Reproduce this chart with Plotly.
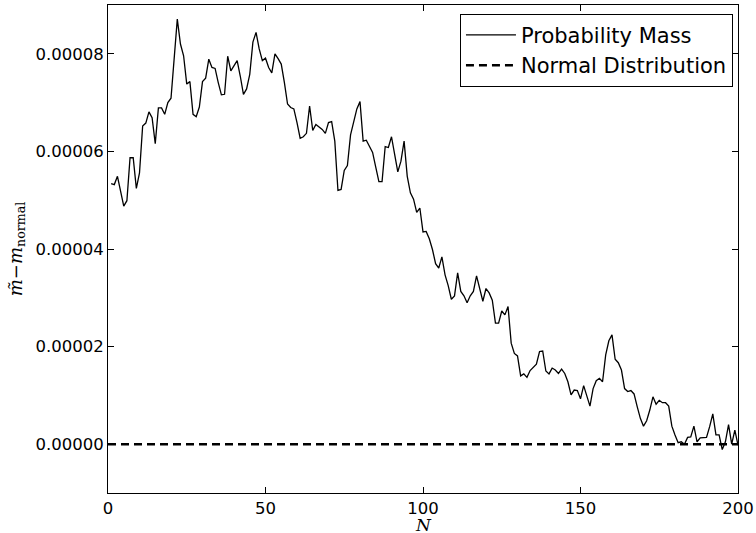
import plotly.graph_objects as go

N = list(range(1, 201))
prob_mass_e5 = [
    5.34, 5.32, 5.49, 5.19, 4.88, 4.99, 5.87, 5.87, 5.24, 5.56,
    6.52, 6.58, 6.81, 6.69, 6.16, 6.89, 6.89, 6.76, 7.00, 7.09,
    7.93, 8.71, 8.20, 7.96, 7.38, 7.43, 6.76, 6.71, 6.91, 7.43,
    7.50, 7.89, 7.72, 7.70, 7.41, 7.16, 7.17, 7.95, 7.65, 7.76,
    7.86, 7.54, 7.17, 7.28, 7.58, 8.24, 8.44, 8.10, 7.86, 7.91,
    7.72, 7.61, 8.00, 7.90, 7.79, 7.41, 6.97, 6.90, 6.87, 6.59,
    6.27, 6.30, 6.37, 6.93, 6.43, 6.55, 6.50, 6.45, 6.37, 6.59,
    6.61, 6.21, 5.20, 5.22, 5.61, 5.71, 6.34, 6.59, 6.87, 7.02,
    6.21, 6.23, 6.10, 5.98, 5.68, 5.38, 5.38, 6.10, 6.08, 6.30,
    5.94, 5.58, 5.80, 6.21, 5.49, 5.15, 5.02, 4.75, 4.84, 4.35,
    4.36, 4.21, 3.99, 3.70, 3.61, 3.84, 3.47, 3.25, 2.97, 3.04,
    3.51, 3.13, 3.04, 2.90, 3.04, 3.13, 3.45, 3.20, 2.93, 3.19,
    3.10, 2.95, 2.48, 2.48, 2.73, 2.65, 2.82, 2.07, 1.86, 1.81,
    1.40, 1.44, 1.37, 1.51, 1.58, 1.64, 1.90, 1.91, 1.50, 1.44,
    1.56, 1.52, 1.45, 1.54, 1.45, 1.28, 1.01, 1.11, 1.10, 0.93,
    1.20, 0.97, 0.78, 1.14, 1.30, 1.35, 1.28, 1.83, 2.12, 2.24,
    1.74, 1.67, 1.52, 1.14, 1.08, 1.10, 1.03, 0.77, 0.53, 0.37,
    0.48, 0.70, 0.97, 0.82, 0.90, 0.85, 0.85, 0.78, 0.37, 0.19,
    0.03, 0.05, 0.00, 0.14, 0.15, 0.37, 0.05, 0.13, 0.14, 0.14,
    0.36, 0.62, 0.19, 0.19, -0.11, 0.05, 0.40, 0.00, 0.29, -0.02,
]
prob_mass = [v * 1e-5 for v in prob_mass_e5]
normal_x = [0, 200]
normal_y = [0.0, 0.0]

y_ticks = [0.0, 0.00002, 0.00004, 0.00006, 0.00008]
x_ticks = [0, 50, 100, 150, 200]

fig = go.Figure()
fig.add_trace(go.Scatter(x=N, y=prob_mass, mode="lines", name="Probability Mass",
                         line=dict(color="black", width=1.3)))
fig.add_trace(go.Scatter(x=normal_x, y=normal_y, mode="lines", name="Normal Distribution",
                         line=dict(color="black", width=2.5, dash="8px,5px")))

axis_common = dict(showline=True, linecolor="black", linewidth=1, mirror="ticks",
                   ticks="inside", ticklen=6, tickcolor="black", showgrid=False,
                   zeroline=False, automargin=False,
                   tickfont=dict(family="DejaVu Sans", size=16.5, color="black"))

fig.update_layout(
    template="none",
    width=756, height=533,
    margin=dict(l=108, r=18, t=5, b=40, pad=0),
    paper_bgcolor="white", plot_bgcolor="white",
    showlegend=True,
    legend=dict(x=0.992, y=0.982, xanchor="right", yanchor="top",
                bordercolor="black", borderwidth=1, bgcolor="white",
                font=dict(family="DejaVu Sans", size=21, color="black"),
                tracegroupgap=0, itemwidth=50),
    xaxis=dict(range=[0, 200], tickvals=x_ticks, ticktext=[str(v) for v in x_ticks],
               **axis_common),
    yaxis=dict(range=[-0.00001, 0.00009], tickvals=y_ticks,
               ticktext=[f"{v:.5f}" for v in y_ticks],
               title=dict(text="<i>m̃</i>−<i>m</i><sub>normal</sub>",
                          font=dict(family="DejaVu Serif", size=18, color="black"),
                          standoff=8),
               **axis_common),
    annotations=[dict(text="<i>N</i>", xref="paper", yref="paper", x=0.5, y=0,
                      xanchor="center", yanchor="top", yshift=-21, showarrow=False,
                      borderpad=0,
                      font=dict(family="DejaVu Serif", size=17, color="black"))],
)

fig.write_html("out.html", config={"displayModeBar": False},
               post_script="document.body.style.margin='0';document.body.style.padding='0';")
